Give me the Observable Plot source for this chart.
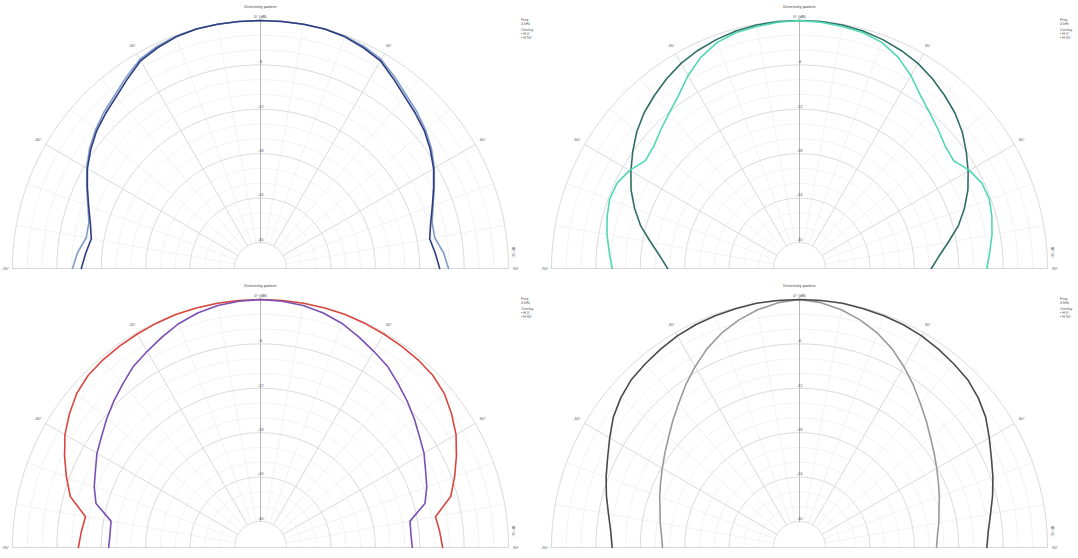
<!DOCTYPE html>
<html><head><meta charset="utf-8">
<script src="https://cdn.jsdelivr.net/npm/d3@7"></script>
<script src="https://cdn.jsdelivr.net/npm/@observablehq/plot@0.6"></script>
<style>
body{margin:0;background:#fff;font-family:"Liberation Sans",Arial,sans-serif}
#wrap{position:relative;width:1078px;height:558px;overflow:hidden}
.panel{position:absolute;width:539px;height:279px}
</style>
</head><body><div id="wrap"></div>
<script>
// ---- data ----
const angles = [-90,-85,-80,-75,-70,-65,-60,-55,-50,-45,-40,-35,-30,-25,-20,-15,-10,-5,0,5,10,15,20,25,30,35,40,45,50,55,60,65,70,75,80,85,90];

const tlDark  = [-9.3,-9.8,-10.3,-9.7,-8.8,-7.7,-6.5,-5.5,-4.6,-3.9,-3.2,-2.2,-1.1,-0.6,-0.2,0,0,0, 0, 0,0,0,-0.2,-0.6,-1.1,-2.2,-3.2,-3.9,-4.6,-5.5,-6.5,-7.7,-8.8,-9.7,-10.3,-9.8,-9.3];
const tlLight = [-8.1,-8.7,-9.6,-9.5,-8.7,-7.6,-6.4,-5.3,-4.4,-3.6,-2.9,-1.9,-0.9,-0.4,-0.1,0,0,0, 0, 0,0,0,-0.1,-0.4,-0.9,-1.9,-2.9,-3.6,-4.4,-5.3,-6.4,-7.6,-8.7,-9.5,-9.6,-8.7,-8.1];

const trDark  = [-15.7,-14.6,-13.1,-11.3,-9.8,-8.4,-7.2,-6.0,-4.8,-3.8,-3.0,-2.2,-1.5,-1.0,-0.6,-0.3,-0.1,0, 0, 0,-0.1,-0.3,-0.6,-1.0,-1.5,-2.2,-3.0,-3.8,-4.8,-6.0,-7.2,-8.4,-9.8,-11.3,-13.1,-14.6,-15.7];
const trLight = [-8.2,-7.7,-7.1,-6.6,-6.2,-6.3,-7.0,-8.1,-7.8,-7.0,-6.1,-5.0,-3.4,-2.0,-1.0,-0.5,-0.3,-0.1, 0, -0.1,-0.3,-0.5,-1.0,-2.0,-3.4,-5.0,-6.1,-7.0,-7.8,-8.1,-7.0,-6.3,-6.2,-6.6,-7.1,-7.7,-8.2];

const blRed    = [-8.9,-9.2,-9.5,-6.9,-5.6,-4.3,-3.0,-2.0,-1.1,-0.6,-0.4,-0.3,-0.2,-0.1,0,0,0,0, 0, 0,0,0,0,-0.1,-0.2,-0.3,-0.4,-0.6,-1.1,-2.0,-3.0,-4.3,-5.6,-6.9,-9.5,-9.2,-8.9];
const blPurple = [-13.0,-13.1,-13.0,-10.5,-9.6,-8.9,-8.0,-7.3,-6.4,-5.5,-4.6,-3.6,-2.9,-2.1,-1.3,-0.7,-0.3,-0.1, 0, -0.1,-0.3,-0.7,-1.3,-2.1,-2.9,-3.6,-4.6,-5.5,-6.4,-7.3,-8.0,-8.9,-9.6,-10.5,-13.0,-13.1,-13.0];

const brDark  = [-8.2,-7.9,-7.3,-6.5,-5.7,-4.9,-3.9,-2.8,-2.0,-1.4,-1.1,-0.8,-0.5,-0.3,-0.2,-0.1,0,0, 0, 0,0,-0.1,-0.2,-0.3,-0.5,-0.8,-1.1,-1.4,-2.0,-2.8,-3.9,-4.9,-5.7,-6.5,-7.3,-7.9,-8.2];
const brLight = [-15.0,-14.8,-14.4,-14.0,-13.4,-12.8,-12.1,-11.3,-10.4,-9.3,-8.1,-6.7,-5.3,-3.9,-2.7,-1.7,-0.9,-0.3, 0, -0.3,-0.9,-1.7,-2.7,-3.9,-5.3,-6.7,-8.1,-9.3,-10.4,-11.3,-12.1,-12.8,-13.4,-14.0,-14.4,-14.8,-15.0];

const ringLabels = [-6,-12,-18,-24,-30];
const angleLabels = [-90,-60,-30,30,60,90];
const titleText = "Directivity pattern";
const topLabel = "0° (dB)";
const legendLines = ["Freq", "4 kHz", "Overlay", "• H 0°", "• H 90°"];
const sideLabel = "-30 dB";

const panels = [
  {left:0,   top:0,   series:[{v:tlLight, c:"#7f9cc8"}, {v:tlDark, c:"#2e3d7e"}]},
  {left:539, top:0,   series:[{v:trDark,  c:"#2f6e68"}, {v:trLight, c:"#4fd8b2"}]},
  {left:0,   top:279, series:[{v:blRed,   c:"#d8463f"}, {v:blPurple, c:"#7a50b2"}]},
  {left:539, top:279, series:[{v:brLight, c:"#9a9a9a"}, {v:brDark, c:"#4a4a4a"}]}
];

// ---- polar helpers ----
const DB_MIN = -30, INNER = 26/248;
const rho = db => INNER + (Math.max(db, DB_MIN) - DB_MIN) / (-DB_MIN) * (1 - INNER);
const rad = a => a * Math.PI / 180;
const pt = (a, r) => ({x: r * Math.sin(rad(a)), y: r * Math.cos(rad(a))});

// grid geometry
const ringData = [];
for (let db = -30; db <= 0; db += 2) {
  for (let a = -90; a <= 90; a += 1) ringData.push({...pt(a, rho(db)), ring: db, major: db % 6 === 0});
}
const spokeData = [];
for (let a = -90; a <= 90; a += 10) {
  spokeData.push({...pt(a, rho(DB_MIN)), s: a, major: a % 30 === 0});
  spokeData.push({...pt(a, 1), s: a, major: a % 30 === 0});
}

function makePanel(p) {
  const marks = [];
  marks.push(Plot.line(ringData.filter(d => !d.major), {x:"x", y:"y", z:"ring", stroke:"#efefef", strokeWidth:0.8}));
  marks.push(Plot.line(spokeData.filter(d => !d.major), {x:"x", y:"y", z:"s", stroke:"#efefef", strokeWidth:0.8}));
  marks.push(Plot.line(ringData.filter(d => d.major), {x:"x", y:"y", z:"ring", stroke:"#dadada", strokeWidth:1}));
  marks.push(Plot.line(spokeData.filter(d => d.major && d.s !== 0), {x:"x", y:"y", z:"s", stroke:"#dadada", strokeWidth:1}));
  marks.push(Plot.ruleY([0], {x1:-1, x2:1, stroke:"#d6d6d6", strokeWidth:1}));
  marks.push(Plot.line(spokeData.filter(d => d.s === 0), {x:"x", y:"y", stroke:"#b8b8b8", strokeWidth:1}));
  for (const s of p.series) {
    const data = angles.map((a, i) => pt(a, rho(s.v[i])));
    marks.push(Plot.line(data, {x:"x", y:"y", stroke:s.c, strokeWidth:1.6}));
  }
  // ring labels
  marks.push(Plot.text(ringLabels, {x:0, y: d => rho(d) + 0.012, text: d => String(d), fontSize:4, fill:"#555"}));
  // angle labels
  marks.push(Plot.text(angleLabels.filter(a => Math.abs(a) !== 90), {
    x: a => pt(a, 1.035).x, y: a => pt(a, 1.035).y, text: a => a + "°", fontSize:4, fill:"#555"}));
  marks.push(Plot.text([-90], {x:-1.028, y:0, text: a => a + "°", fontSize:4, fill:"#555"}));
  marks.push(Plot.text([90], {x:1.03, y:0, text: a => a + "°", fontSize:4, fill:"#555"}));
  marks.push(Plot.text([sideLabel], {x:1.02, y:0.065, text: d => d, rotate:-90, fontSize:4, fill:"#666"}));
  marks.push(Plot.text([titleText], {x:0, y:1.056, text: d => d, fontSize:4.2, fill:"#444"}));
  marks.push(Plot.text([topLabel], {x:0, y:1.017, text: d => d, fontSize:4, fill:"#444"}));
  marks.push(Plot.text(legendLines, {x:1.05, y:(d, i) => [1.004, 0.988, 0.962, 0.946, 0.93][i], text: d => d, textAnchor:"start", fontSize:3.6, fill:"#555"}));

  return Plot.plot({
    width:539, height:279, margin:0,
    style:{background:"#fff", fontFamily:"Liberation Sans, Arial, sans-serif"},
    x:{domain:[-260/248, 279/248], axis:null},
    y:{domain:[-11/248, 268/248], axis:null},
    marks
  });
}

const wrap = document.getElementById("wrap");
for (const p of panels) {
  const div = document.createElement("div");
  div.className = "panel";
  div.style.left = p.left + "px";
  div.style.top = p.top + "px";
  div.appendChild(makePanel(p));
  wrap.appendChild(div);
}
</script>
</body></html>
